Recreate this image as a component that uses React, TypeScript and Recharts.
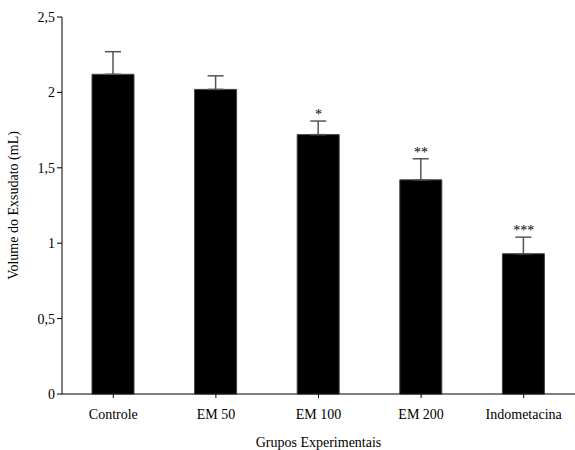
import { ComposedChart, Bar, Line, XAxis, YAxis, ErrorBar, LabelList } from 'recharts';

const groups = ['Controle', 'EM 50', 'EM 100', 'EM 200', 'Indometacina'];
const volumes = [2.12, 2.02, 1.72, 1.42, 0.93];
const errors = [0.15, 0.09, 0.09, 0.14, 0.11];
const marks = ['', '', '*', '**', '***'];
const yTicks = [0, 0.5, 1, 1.5, 2, 2.5];

const data = groups.map((name, i) => ({
    name,
    volume: volumes[i],
    err: [0, errors[i]],
    top: volumes[i] + errors[i],
    mark: marks[i],
}));

const font = "'Liberation Serif', 'Times New Roman', serif";

export default function App() {
    return (
        <div style={{ position: 'absolute', left: 0, top: 0, width: 575, height: 450, background: '#fff', fontFamily: font }}>
            <style>{`.recharts-wrapper text { font-family: 'Liberation Serif', 'DejaVu Serif', serif !important; }`}</style>
            <ComposedChart width={575} height={450} data={data} margin={{ top: 17, right: 0, left: 0, bottom: 0 }}>
                <XAxis
                    dataKey="name"
                    height={56}
                    stroke="#000"
                    tickSize={4}
                    tickMargin={11}
                    tick={{ fill: '#000', fontSize: 14 }}
                    label={{ value: 'Grupos Experimentais', position: 'insideBottom', offset: 3, fill: '#000', fontSize: 14 }}
                />
                <YAxis
                    width={62}
                    domain={[0, 2.5]}
                    ticks={yTicks}
                    stroke="#000"
                    tickSize={5}
                    tickFormatter={(v) => String(v).replace('.', ',')}
                    tick={{ fill: '#000', fontSize: 14 }}
                    label={{ value: 'Volume do Exsudato (mL)', angle: -90, position: 'insideLeft', offset: 13, style: { textAnchor: 'middle' }, fill: '#000', fontSize: 14 }}
                />
                <Bar dataKey="volume" fill="#000" stroke="#444" strokeWidth={1} barSize={42} isAnimationActive={false}>
                    <ErrorBar dataKey="err" direction="y" width={8} stroke="#555" strokeWidth={1.5} />
                </Bar>
                <Line dataKey="top" stroke="none" dot={false} activeDot={false} isAnimationActive={false}>
                    <LabelList dataKey="mark" position="top" offset={2} fill="#000" fontSize={14} />
                </Line>
            </ComposedChart>
        </div>
    );
}
